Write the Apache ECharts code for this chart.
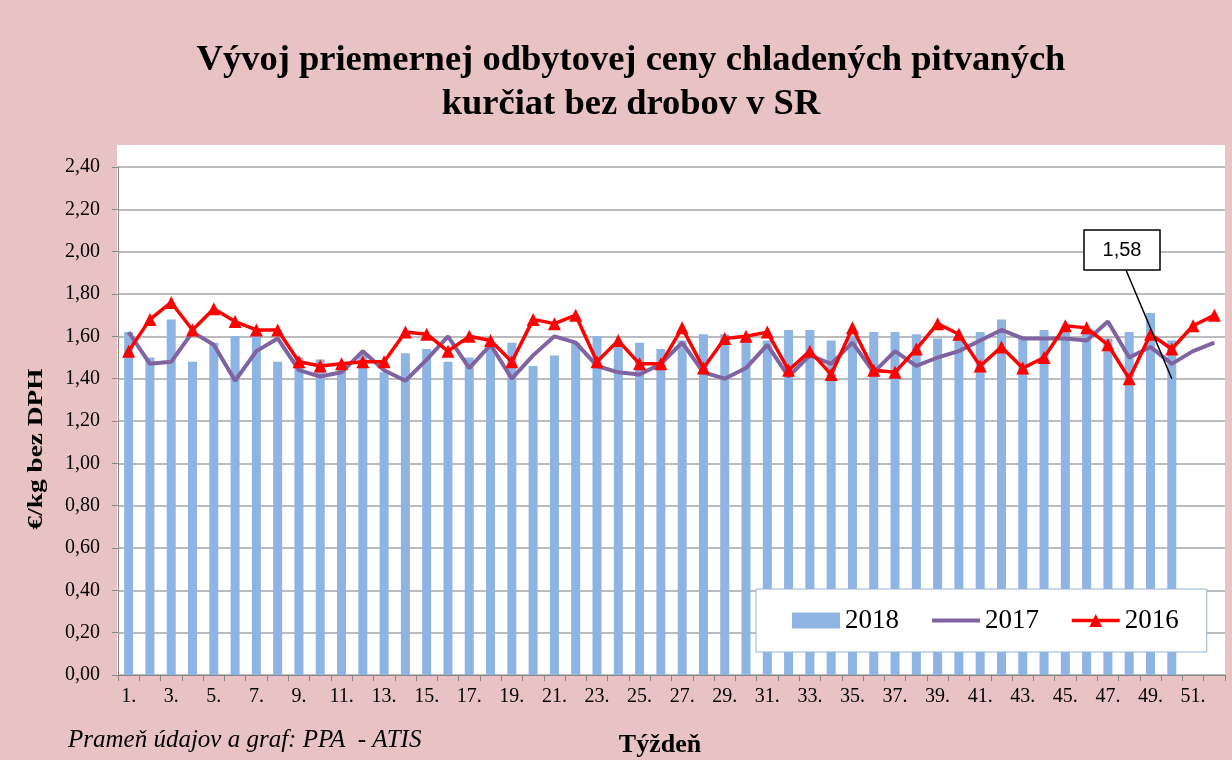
<!DOCTYPE html>
<html>
<head>
<meta charset="utf-8">
<script src="https://cdn.jsdelivr.net/npm/echarts@6/dist/echarts.min.js"></script>
<style>
  html, body { margin: 0; padding: 0; background: #E9C3C3; }
  #main { width: 1232px; height: 760px; }
</style>
</head>
<body>
<div id="main"></div>
<script>
// týždne 1. - 52.
var weeks = [];
for (var i = 1; i <= 52; i++) weeks.push(i + '.');

var yTicks = ['0,00', '0,20', '0,40', '0,60', '0,80', '1,00', '1,20', '1,40', '1,60', '1,80', '2,00', '2,20', '2,40'];

var data2018 = [1.62, 1.50, 1.68, 1.48, 1.57, 1.60, 1.61, 1.48, 1.50, 1.49,
  1.45, 1.52, 1.43, 1.52, 1.54, 1.48, 1.50, 1.55, 1.57, 1.46,
  1.51, 1.57, 1.60, 1.57, 1.57, 1.54, 1.58, 1.61, 1.61, 1.60,
  1.58, 1.63, 1.63, 1.58, 1.60, 1.62, 1.62, 1.61, 1.59, 1.60,
  1.62, 1.68, 1.59, 1.63, 1.64, 1.62, 1.59, 1.62, 1.71, 1.58];

var data2017 = [1.62, 1.47, 1.48, 1.62, 1.56, 1.39, 1.53, 1.59, 1.44, 1.41,
  1.43, 1.53, 1.44, 1.39, 1.49, 1.60, 1.45, 1.56, 1.40, 1.51,
  1.60, 1.57, 1.46, 1.43, 1.42, 1.47, 1.57, 1.43, 1.40, 1.45,
  1.56, 1.41, 1.51, 1.47, 1.57, 1.43, 1.53, 1.46, 1.50, 1.53,
  1.58, 1.63, 1.59, 1.59, 1.59, 1.58, 1.67, 1.50, 1.55, 1.47,
  1.53, 1.57];

var data2016 = [1.53, 1.68, 1.76, 1.63, 1.73, 1.67, 1.63, 1.63, 1.48, 1.46,
  1.47, 1.48, 1.48, 1.62, 1.61, 1.53, 1.60, 1.58, 1.48, 1.68,
  1.66, 1.70, 1.48, 1.58, 1.47, 1.47, 1.64, 1.45, 1.59, 1.60,
  1.62, 1.44, 1.53, 1.42, 1.64, 1.44, 1.43, 1.54, 1.66, 1.61,
  1.46, 1.55, 1.45, 1.50, 1.65, 1.64, 1.56, 1.40, 1.61, 1.54,
  1.65, 1.70];

var calloutText = '1,58';
var calloutWeek = 49;   // index týždňa 50.
var calloutEnd = 1.40;

var serif = '"Liberation Serif", "Times New Roman", serif';

var chart = echarts.init(document.getElementById('main'));

var option = {
  backgroundColor: '#E9C3C3',
  animation: false,
  title: {
    text: 'Vývoj priemernej odbytovej ceny chladených pitvaných\nkurčiat bez drobov v SR',
    left: 626,
    textAlign: 'center',
    top: 34,
    textStyle: {
      fontFamily: serif,
      fontWeight: 'bold',
      fontSize: 36.5,
      lineHeight: 44,
      color: '#000'
    }
  },
  grid: {
    left: 118,
    right: 7,
    top: 167,
    bottom: 85,
    containLabel: false
  },
  legend: {
    left: 756,
    top: 589,
    padding: [18, 28, 18, 36],
    backgroundColor: '#fff',
    borderColor: '#95B3D7',
    borderWidth: 1,
    borderRadius: 0,
    itemGap: 31,
    itemWidth: 48,
    itemHeight: 16,
    textStyle: { fontFamily: serif, fontSize: 27, color: '#000' },
    data: [
      { name: '2018', icon: 'rect' },
      { name: '2017', itemStyle: { opacity: 0 }, lineStyle: { width: 4 } },
      { name: '2016', lineStyle: { width: 3.5 } }
    ]
  },
  xAxis: {
    type: 'category',
    data: weeks,
    axisLine: { lineStyle: { color: '#868686', width: 1 } },
    axisTick: { show: true, interval: 0, length: 6, lineStyle: { color: '#868686' } },
    axisLabel: {
      interval: 1,
      fontFamily: serif,
      fontSize: 20,
      color: '#000',
      margin: 12
    }
  },
  yAxis: {
    type: 'value',
    min: 0,
    max: 2.4,
    interval: 0.2,
    axisLine: { show: true, lineStyle: { color: '#868686' } },
    axisTick: { show: true, length: 6, lineStyle: { color: '#868686' } },
    splitLine: { lineStyle: { color: '#A6A6A6', width: 1.5 } },
    axisLabel: {
      fontFamily: serif,
      fontSize: 20,
      color: '#000',
      margin: 18,
      formatter: function (v) {
        return yTicks[Math.round(v / 0.2)];
      }
    }
  },
  series: [{
    name: '2018',
    type: 'bar',
    data: data2018,
    barWidth: 9,
    itemStyle: { color: '#8DB4E2' },
    z: 2
  }, {
    name: '2017',
    type: 'line',
    data: data2017,
    symbol: 'none',
    lineStyle: { color: '#8064A2', width: 4 },
    itemStyle: { color: '#8064A2' },
    z: 3
  }, {
    name: '2016',
    type: 'line',
    data: data2016,
    symbol: 'triangle',
    symbolSize: 13,
    lineStyle: { color: '#FF0000', width: 3.5 },
    itemStyle: { color: '#FF0000' },
    z: 4
  }]
};

chart.setOption(option);

// biele pozadie plochy, popisy a odkaz s hodnotou
var end = chart.convertToPixel({ gridIndex: 0 }, [calloutWeek, calloutEnd]);
chart.setOption({
  graphic: [{
    type: 'rect',
    z: -10,
    shape: { x: 117, y: 145, width: 1108, height: 530 },
    style: { fill: '#fff' }
  }, {
    type: 'text',
    x: 37,
    y: 449,
    rotation: Math.PI / 2,
    scaleX: 1.3,
    style: {
      text: '€/kg bez DPH',
      font: 'bold 21px ' + serif,
      fill: '#000',
      align: 'center',
      verticalAlign: 'middle'
    }
  }, {
    type: 'text',
    x: 660,
    y: 745,
    style: {
      text: 'Týždeň',
      font: 'bold 26px ' + serif,
      fill: '#000',
      align: 'center',
      verticalAlign: 'middle'
    }
  }, {
    type: 'text',
    x: 68,
    y: 753,
    style: {
      text: 'Prameň údajov a graf: PPA  - ATIS',
      font: 'italic 25px ' + serif,
      fill: '#000',
      align: 'left',
      verticalAlign: 'bottom'
    }
  }, {
    type: 'line',
    z: 20,
    shape: { x1: 1126, y1: 270, x2: end[0], y2: end[1] },
    style: { stroke: '#000', lineWidth: 1.5 }
  }, {
    type: 'rect',
    z: 20,
    shape: { x: 1084, y: 230, width: 76, height: 40 },
    style: { fill: '#fff', stroke: '#000', lineWidth: 1.5 }
  }, {
    type: 'text',
    z: 21,
    x: 1122,
    y: 250,
    style: {
      text: calloutText,
      font: '20px "Liberation Sans", Arial, sans-serif',
      fill: '#000',
      align: 'center',
      verticalAlign: 'middle'
    }
  }]
});
</script>
</body>
</html>
